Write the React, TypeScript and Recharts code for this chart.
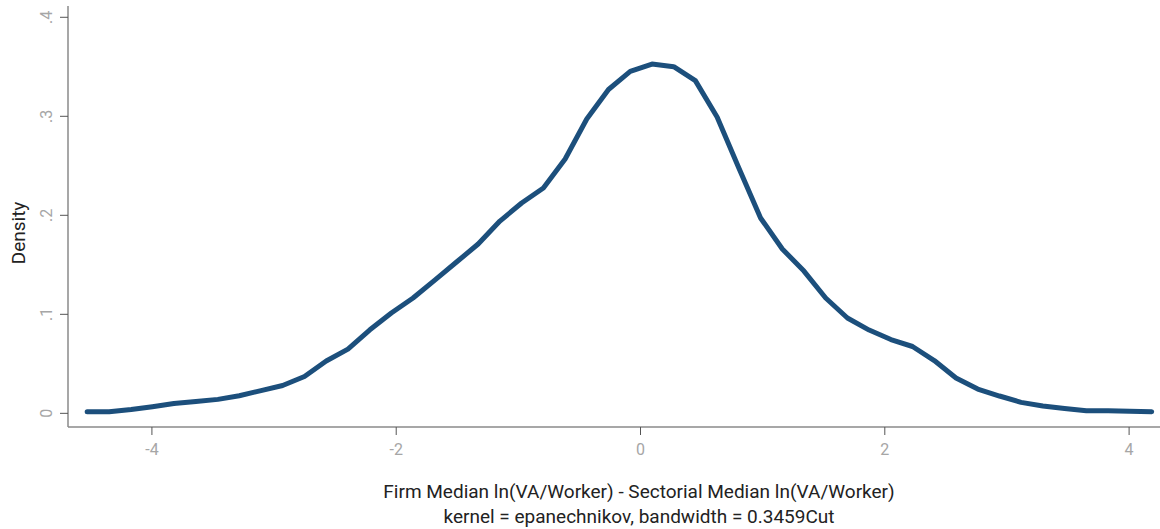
import React from "react";
import { LineChart, Line, XAxis, YAxis, Label } from "recharts";

// Kernel density estimate, 50 evaluation points
const gridX = [
  -4.53, -4.35, -4.17, -3.996, -3.82, -3.64, -3.46, -3.285, -3.107, -2.93,
  -2.751, -2.573, -2.395, -2.218, -2.04, -1.862, -1.684, -1.506, -1.329, -1.151,
  -0.973, -0.795, -0.617, -0.44, -0.262, -0.084, 0.094, 0.272, 0.449, 0.627,
  0.805, 0.983, 1.161, 1.338, 1.516, 1.694, 1.872, 2.05, 2.227, 2.405,
  2.583, 2.761, 2.939, 3.116, 3.294, 3.472, 3.65, 3.828, 4.005, 4.185,
];
const density = [
  0.0016, 0.0016, 0.0038, 0.0067, 0.0099, 0.0119, 0.0141, 0.0178, 0.023, 0.0281,
  0.0372, 0.0528, 0.0649, 0.0841, 0.1013, 0.1165, 0.1346, 0.1528, 0.171, 0.1942,
  0.2124, 0.2276, 0.2569, 0.2973, 0.3271, 0.3453, 0.3528, 0.3501, 0.336, 0.2993,
  0.2478, 0.1973, 0.166, 0.1437, 0.1165, 0.0963, 0.0841, 0.0745, 0.0675, 0.0533,
  0.0357, 0.0245, 0.0175, 0.0111, 0.0074, 0.0048, 0.0026, 0.0026, 0.0021, 0.0016,
];
const xTicks = [-4, -2, 0, 2, 4];
const yTicks = [0, 0.1, 0.2, 0.3, 0.4];
const yTickLabels = ["0", ".1", ".2", ".3", ".4"];

const data = gridX.map((x, i) => ({ x, d: density[i] }));

const FONT = "Roboto, 'Noto Sans', sans-serif";
const TICK_COLOR = "#a6a6a6";

const YTick = (props: any) => {
  const { x, y, payload } = props;
  const idx = yTicks.indexOf(payload.value);
  const cx = x - 11;
  return (
    <text
      x={cx}
      y={y}
      transform={`rotate(-90, ${cx}, ${y})`}
      textAnchor="middle"
      dominantBaseline="central"
      fill={TICK_COLOR}
      fontSize={16}
      fontFamily={FONT}
    >
      {idx >= 0 ? yTickLabels[idx] : payload.value}
    </text>
  );
};

const XTick = (props: any) => {
  const { x, y, payload } = props;
  return (
    <text
      x={x}
      y={y + 12}
      textAnchor="middle"
      dominantBaseline="central"
      fill={TICK_COLOR}
      fontSize={16}
      fontFamily={FONT}
    >
      {String(payload.value)}
    </text>
  );
};

export default function App() {
  return (
    <div style={{ position: "fixed", left: 0, top: 0, background: "#fff" }}>
      <LineChart
        width={1160}
        height={529}
        data={data}
        margin={{ top: 6, right: 0, bottom: 0, left: 0 }}
      >
        <XAxis
          dataKey="x"
          type="number"
          domain={[-4.687, 4.253]}
          ticks={xTicks}
          allowDataOverflow
          height={102}
          tickSize={8}
          axisLine={{ stroke: "#8a8a8a", strokeWidth: 1.5 }}
          tickLine={{ stroke: "#555", strokeWidth: 1 }}
          tick={<XTick />}
        >
          <Label
            content={({ viewBox }: any) => {
              const { x, y } = viewBox;
              return (
                <g fontFamily={FONT} fontSize={19} fill="#222" textAnchor="middle">
                  <text x={x + 571} y={y + 64} dominantBaseline="central">
                    Firm Median ln(VA/Worker) - Sectorial Median ln(VA/Worker)
                  </text>
                  <text x={x + 571} y={y + 89} dominantBaseline="central">
                    kernel = epanechnikov, bandwidth = 0.3459Cut
                  </text>
                </g>
              );
            }}
          />
        </XAxis>
        <YAxis
          type="number"
          domain={[-0.0138, 0.4114]}
          ticks={yTicks}
          allowDataOverflow
          width={68}
          tickSize={8}
          axisLine={{ stroke: "#8a8a8a", strokeWidth: 1.5 }}
          tickLine={{ stroke: "#555", strokeWidth: 1 }}
          tick={<YTick />}
        >
          <Label
            content={({ viewBox }: any) => {
              const { y } = viewBox;
              const cx = 18;
              const cy = y + 227;
              return (
                <text
                  x={cx}
                  y={cy}
                  transform={`rotate(-90, ${cx}, ${cy})`}
                  textAnchor="middle"
                  dominantBaseline="central"
                  fontFamily={FONT}
                  fontSize={19}
                  fill="#222"
                >
                  Density
                </text>
              );
            }}
          />
        </YAxis>
        <Line
          type="linear"
          dataKey="d"
          stroke="#1c4f7c"
          strokeWidth={5}
          strokeLinecap="round"
          strokeLinejoin="round"
          dot={false}
          activeDot={false}
          isAnimationActive={false}
        />
      </LineChart>
    </div>
  );
}
